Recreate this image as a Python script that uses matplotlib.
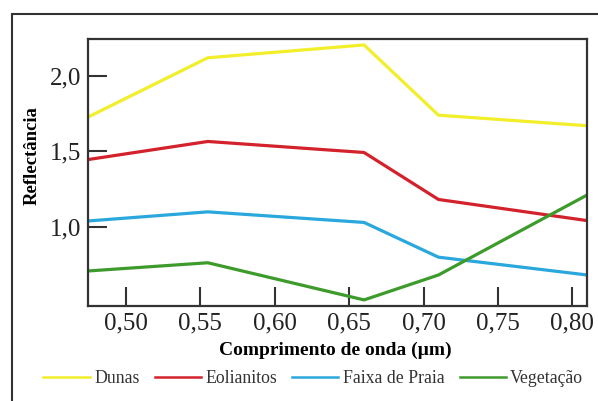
import matplotlib.pyplot as plt
from matplotlib.patches import Rectangle

# wavelengths (um) and reflectance
wl = [0.475, 0.555, 0.66, 0.71, 0.81]
dunas = [1.73, 2.12, 2.205, 1.74, 1.67]
eolianitos = [1.447, 1.566, 1.493, 1.182, 1.042]
faixa = [1.04, 1.10, 1.03, 0.80, 0.682]
vegetacao = [0.709, 0.763, 0.517, 0.682, 1.212]

xticks = [0.50, 0.55, 0.60, 0.65, 0.70, 0.75, 0.80]
yticks = [1.0, 1.5, 2.0]

plt.rcParams['font.family'] = ['Liberation Serif', 'DejaVu Serif']

fig = plt.figure(figsize=(5.98, 4.01), dpi=100)
ax = fig.add_axes([0.147, 0.237, 0.835, 0.666])

# outer frame
fig.patches.append(Rectangle((12/598, -0.05), 1.0, 1 - 14/401 + 0.05,
                             transform=fig.transFigure, fill=False,
                             edgecolor='#333333', linewidth=1.5))

ax.plot(wl, dunas, color='#f2ee2a', lw=2.3, label='Dunas')
ax.plot(wl, eolianitos, color='#d3222b', lw=2.3, label='Eolianitos')
ax.plot(wl, faixa, color='#2aa7dc', lw=2.3, label='Faixa de Praia')
ax.plot(wl, vegetacao, color='#3d9b2c', lw=2.3, label='Vegetação')

ax.set_xlim(0.4744, 0.810)
ax.set_ylim(0.477, 2.245)
ax.set_xticks(xticks)
ax.set_xticklabels([('%.2f' % v).replace('.', ',') for v in xticks])
ax.set_yticks(yticks)
ax.set_yticklabels([('%.1f' % v).replace('.', ',') for v in yticks])
ax.tick_params(direction='in', length=14, width=1.5, labelsize=18,
               color='#333333', labelcolor='#222222', pad=5)

for s in ax.spines.values():
    s.set_linewidth(1.6)
    s.set_color('#333333')

ax.set_xlabel('Comprimento de onda (µm)', fontsize=14, fontweight='bold')
ax.xaxis.set_label_coords(0.495, -0.135)
ax.set_ylabel('Reflectância', fontsize=13.5, fontweight='bold')
ax.yaxis.set_label_coords(-0.094, 0.565)

leg = fig.legend(loc='center', bbox_to_anchor=(0.524, 0.055), ncol=4, frameon=False,
                 fontsize=12.8, handlelength=2.6, handletextpad=0.25,
                 columnspacing=0.85)
for line in leg.get_lines():
    line.set_linewidth(1.8)
for t in leg.get_texts():
    t.set_color('#333333')

fig.savefig('out.png', dpi=100)
